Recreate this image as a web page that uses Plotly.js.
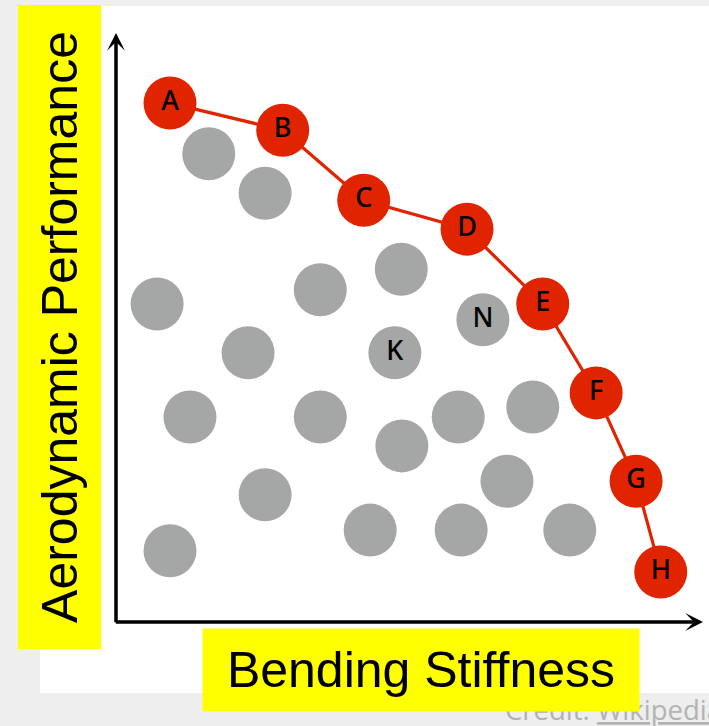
<!DOCTYPE html>
<html>
<head>
<meta charset="utf-8">
<script src="https://cdn.plot.ly/plotly-3.0.1.min.js"></script>
<style>html,body{margin:0;padding:0;background:#eeeeee;}#chart{width:709px;height:726px;}</style>
</head>
<body>
<div id="chart"></div>
<script>
// Pareto-front designs (red)
var paretoLabels = ['A', 'B', 'C', 'D', 'E', 'F', 'G', 'H'];
var paretoStiffness = [9.2, 28.4, 42.2, 59.8, 72.7, 81.8, 88.6, 92.8];
var paretoPerformance = [88.1, 83.5, 71.6, 66.7, 54.0, 38.9, 23.9, 8.5];

// Dominated designs (grey)
var otherLabels = ['', '', '', '', '', '', 'K', 'N', '', '', '', '', '', '', '', '', '', '', ''];
var otherStiffness = [15.8, 25.4, 7.0, 34.8, 48.6, 22.5, 47.5, 62.5, 12.6, 34.8, 58.3, 71.0, 48.7, 25.4, 66.6, 9.2, 43.3, 58.8, 77.3];
var otherPerformance = [79.5, 72.8, 54.0, 56.4, 59.9, 45.7, 45.7, 51.3, 34.8, 34.8, 34.8, 36.5, 29.9, 21.6, 23.9, 12.1, 15.6, 15.6, 15.6];

var xTitle = 'Bending Stiffness';
var yTitle = 'Aerodynamic Performance';
var creditText = 'Credit: <u>Wikipedia</u>';

var RED = '#e02400';
var GREY = '#a5a7a6';
var labelFont = {family: '"Noto Sans", "DejaVu Sans", sans-serif', size: 27, weight: 500, color: '#000000'};

var traces = [
  {
    type: 'scatter', mode: 'markers+text',
    x: otherStiffness, y: otherPerformance, text: otherLabels,
    textposition: 'middle center', textfont: labelFont,
    marker: {size: 53, color: GREY, line: {width: 0}},
    hoverinfo: 'skip', cliponaxis: false
  },
  {
    type: 'scatter', mode: 'lines+markers+text',
    x: paretoStiffness, y: paretoPerformance, text: paretoLabels,
    textposition: 'middle center', textfont: labelFont,
    line: {color: RED, width: 3.2},
    marker: {size: 53, color: RED, line: {width: 0}},
    hoverinfo: 'skip', cliponaxis: false
  }
];

var layout = {
  width: 709, height: 726,
  margin: {l: 116, r: 6, t: 33, b: 104, pad: 0},
  paper_bgcolor: '#eeeeee',
  plot_bgcolor: 'rgba(0,0,0,0)',
  showlegend: false,
  xaxis: {range: [0, 100], visible: false, fixedrange: true},
  yaxis: {range: [0, 100], visible: false, fixedrange: true},
  shapes: [
    {type: 'rect', xref: 'paper', yref: 'paper', layer: 'below',
     x0: -0.1295, x1: 1.02, y0: -0.1205, y1: 1.0458,
     fillcolor: '#ffffff', line: {width: 0}}
  ],
  annotations: [
    {xref: 'paper', yref: 'paper', x: 0.6593, y: -0.1494, xanchor: 'left', yanchor: 'middle',
     text: creditText, showarrow: false,
     font: {family: '"Open Sans", sans-serif', size: 27.5, color: '#b3b3b3'}},
    {xref: 'paper', yref: 'paper', x: 0.5196, y: -0.0815, xanchor: 'center', yanchor: 'middle',
     text: xTitle, showarrow: false, width: 436, height: 82, bgcolor: '#ffff00', borderpad: 0,
     align: 'center', valign: 'middle',
     font: {family: '"Liberation Sans", Arial, sans-serif', size: 50, color: '#000000'}},
    {xref: 'paper', yref: 'paper', x: -0.0971, y: 0.5, xanchor: 'center', yanchor: 'middle',
     text: yTitle, showarrow: false, textangle: -90, width: 643, height: 82, bgcolor: '#ffff00', borderpad: 0,
     align: 'center', valign: 'middle',
     font: {family: '"Liberation Sans", Arial, sans-serif', size: 50, color: '#000000'}},
    {xref: 'x', yref: 'y', axref: 'x', ayref: 'y', x: 100, y: 0, ax: -0.3, ay: 0,
     text: '', showarrow: true, arrowhead: 3, arrowsize: 0.85, arrowwidth: 3.5, arrowcolor: '#000000'},
    {xref: 'x', yref: 'y', axref: 'x', ayref: 'y', x: 0, y: 100, ax: 0, ay: -0.3,
     text: '', showarrow: true, arrowhead: 3, arrowsize: 0.85, arrowwidth: 3.5, arrowcolor: '#000000'}
  ]
};

Plotly.newPlot('chart', traces, layout, {staticPlot: true, displayModeBar: false});
</script>
</body>
</html>
